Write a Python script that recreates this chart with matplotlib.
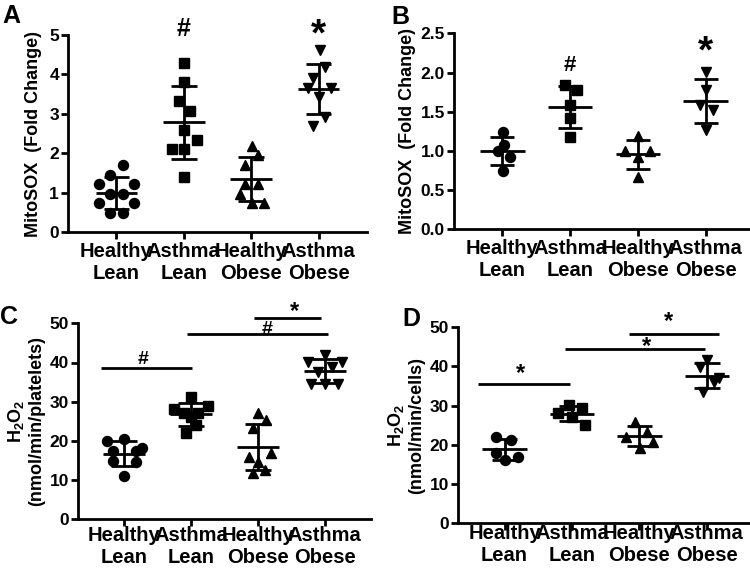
import numpy as np
import matplotlib
matplotlib.use('Agg')
import matplotlib.pyplot as plt

plt.rcParams['font.family'] = ['Liberation Sans', 'DejaVu Sans']
plt.rcParams['font.weight'] = 'bold'
plt.rcParams['mathtext.fontset'] = 'custom'
plt.rcParams['mathtext.rm'] = 'Liberation Sans:bold'
plt.rcParams['mathtext.bf'] = 'Liberation Sans:bold'
plt.rcParams['mathtext.it'] = 'Liberation Sans:bold'
plt.rcParams['mathtext.default'] = 'rm'

groups = ['Healthy\nLean', 'Asthma\nLean', 'Healthy\nObese', 'Asthma\nObese']

# ---- Panel A: MitoSOX (fold change), platelets ----
a_hl = [1.70, 1.45, 1.22, 1.22, 0.98, 0.98, 0.73, 0.73, 0.48, 0.48]
a_al = [4.28, 3.82, 3.33, 3.08, 2.59, 2.35, 2.12, 2.11, 1.39]
a_ho = [2.19, 1.96, 1.71, 1.22, 1.22, 0.98, 0.73, 0.73]
a_ao = [4.62, 4.20, 3.90, 3.65, 3.65, 3.42, 2.93, 2.69]

# ---- Panel B: MitoSOX (fold change), cells ----
b_hl = [1.245, 1.08, 1.00, 0.92, 0.75]
b_al = [1.84, 1.78, 1.585, 1.416, 1.173]
b_ho = [1.19, 1.00, 1.00, 0.92, 0.67]
b_ao = [2.01, 1.78, 1.585, 1.52, 1.27]

# ---- Panel C: H2O2 (nmol/min/platelets) ----
c_hl = [20.05, 20.4, 18.3, 17.4, 17.4, 15.0, 14.6, 11.1]
c_al = [31.3, 29.0, 28.1, 27.0, 27.0, 26.2, 24.0, 21.9]
c_ho = [27.0, 25.3, 23.2, 16.8, 16.0, 14.6, 12.6, 11.7]
c_ao = [42.0, 40.2, 40.2, 38.8, 37.6, 34.4, 34.4, 34.4]

# ---- Panel D: H2O2 (nmol/min/cells) ----
d_hl = [22.05, 21.2, 17.8, 16.9, 16.1]
d_al = [30.1, 29.3, 28.0, 27.2, 25.0]
d_ho = [25.9, 23.3, 22.05, 20.8, 19.1]
d_ao = [41.6, 39.9, 37.0, 36.1, 33.5]

# horizontal spread of points within each column (category units)
jit_a = [[0.09, -0.09, -0.26, 0.26, -0.09, 0.09, -0.26, 0.26, -0.09, 0.09],
         [0, 0, -0.075, 0.09, 0, 0.19, -0.17, 0, 0],
         [0.015, 0.1, -0.09, -0.09, 0.1, -0.17, 0.015, 0.19],
         [0.02, 0.1, -0.08, -0.16, 0.19, 0, 0.1, -0.08]]
jit_b = [[0.015, 0.02, -0.06, 0.12, 0.015],
         [-0.08, 0.1, 0, 0, 0],
         [0, -0.19, 0.17, 0, 0],
         [0, 0, -0.09, 0.1, 0]]
jit_c = [[-0.26, 0, 0.26, -0.17, 0.17, -0.17, 0.17, 0],
         [0, 0.25, -0.25, -0.1, 0.1, 0.0, 0.08, -0.08],
         [0, 0.12, -0.07, 0.19, -0.14, 0.0, 0.1, -0.07],
         [0, -0.25, 0.25, 0.1, -0.1, -0.2, 0.2, 0]]
jit_d = [[-0.12, 0.1, -0.12, 0.2, 0],
         [-0.05, 0.15, -0.2, 0.0, 0.2],
         [-0.07, 0.12, -0.2, 0.2, 0.01],
         [0, -0.1, 0.18, 0.1, -0.05]]

markers = ['o', 's', '^', 'v']
msizes = [7.2, 6.7, 7.8, 7.8]

W, H = 750, 572
fig = plt.figure(figsize=(7.5, 5.72), dpi=100)

def px_axes(left, right, bottom, top):
    return fig.add_axes([left / W, 1 - bottom / H, (right - left) / W, (bottom - top) / H])

def panel(ax, data, jit, xlim, ylim, yticks, fmt, ylabel, mean_hw, cap_hw, labelpad, xpad):
    for i, (vals, jj) in enumerate(zip(data, jit)):
        vals = np.asarray(vals, float)
        ax.plot(i + np.asarray(jj), vals, linestyle='none', marker=markers[i],
                ms=msizes[i], color='black', mec='black', clip_on=False, zorder=3)
        m = vals.mean()
        sd = vals.std(ddof=1)
        ax.hlines(m, i - mean_hw, i + mean_hw, color='black', lw=2, zorder=4)
        ax.vlines(i, m - sd, m + sd, color='black', lw=2, zorder=4)
        ax.hlines([m - sd, m + sd], i - cap_hw, i + cap_hw, color='black', lw=2, zorder=4)
    ax.set_xlim(*xlim)
    ax.set_ylim(*ylim)
    ax.set_xticks(range(4))
    ax.set_xticklabels(groups, fontsize=14.5, fontweight='bold', linespacing=1.2)
    ax.set_yticks(yticks)
    ax.set_yticklabels([fmt.format(t) for t in yticks], fontsize=12.5, fontweight='bold')
    ax.set_ylabel(ylabel, fontsize=13, fontweight='bold', labelpad=labelpad)
    for s in ['top', 'right']:
        ax.spines[s].set_visible(False)
    for s in ['left', 'bottom']:
        ax.spines[s].set_linewidth(2)
    ax.tick_params(axis='both', direction='out', length=5, width=2, pad=1.5)
    ax.tick_params(axis='x', pad=xpad)

axA = px_axes(68, 367, 232.3, 35)
panel(axA, [a_hl, a_al, a_ho, a_ao], jit_a, (-0.72, 3.72), (0, 5), [0, 1, 2, 3, 4, 5], '{:g}',
      'MitoSOX  (Fold Change)', 0.31, 0.19, 5, 2)
axA.text(1, 5.16, '#', ha='center', va='center', fontsize=18, fontweight='bold', clip_on=False)
axA.text(3, 5.0, '*', ha='center', va='center', fontsize=28, fontweight='bold', clip_on=False)

axB = px_axes(454, 750, 229.3, 33.3)
panel(axB, [b_hl, b_al, b_ho, b_ao], jit_b, (-0.71, 3.65), (0, 2.5), [0, 0.5, 1.0, 1.5, 2.0, 2.5], '{:.1f}',
      'MitoSOX  (Fold Change)', 0.33, 0.18, 3, 2)
axB.text(1, 2.09, '#', ha='center', va='center', fontsize=16, fontweight='bold', clip_on=False)
axB.text(3, 2.25, '*', ha='center', va='center', fontsize=28, fontweight='bold', clip_on=False)

axC = px_axes(78, 371, 519.3, 323.3)
panel(axC, [c_hl, c_al, c_ho, c_ao], jit_c, (-0.69, 3.69), (0, 50), [0, 10, 20, 30, 40, 50], '{:g}',
      'H$_2$O$_2$\n(nmol/min/platelets)', 0.31, 0.19, 3, 0)

def sig(ax, x0, x1, y, label, tx, ty, fs):
    ax.plot([x0, x1], [y, y], color='black', lw=2, clip_on=False, solid_capstyle='butt')
    ax.text(tx, ty, label, ha='center', va='center', fontsize=fs, fontweight='bold', clip_on=False)

sig(axC, -0.34, 1.01, 38.5, '#', 0.28, 40.8, 14)
sig(axC, 0.94, 3.05, 47.3, '#', 2.14, 48.4, 14)
sig(axC, 1.94, 2.95, 51.3, '*', 2.55, 53.0, 17)

axD = px_axes(458, 750, 523, 327.3)
panel(axD, [d_hl, d_al, d_ho, d_ao], jit_d, (-0.69, 3.64), (0, 50), [0, 10, 20, 30, 40, 50], '{:g}',
      'H$_2$O$_2$\n(nmol/min/cells)', 0.33, 0.19, 3, -4.5)
sig(axD, -0.39, 0.97, 35.4, '*', 0.23, 38.3, 17)
sig(axD, 0.90, 2.98, 44.4, '*', 2.10, 45.0, 17)
sig(axD, 1.84, 3.18, 48.3, '*', 2.43, 51.4, 17)

for txt, x, y in [('A', 2, 4), ('B', 391, 5), ('C', 0, 305), ('D', 402, 307)]:
    fig.text(x / W, 1 - y / H, txt, ha='left', va='top', fontsize=18, fontweight='bold')

fig.savefig('out.png', dpi=100)
